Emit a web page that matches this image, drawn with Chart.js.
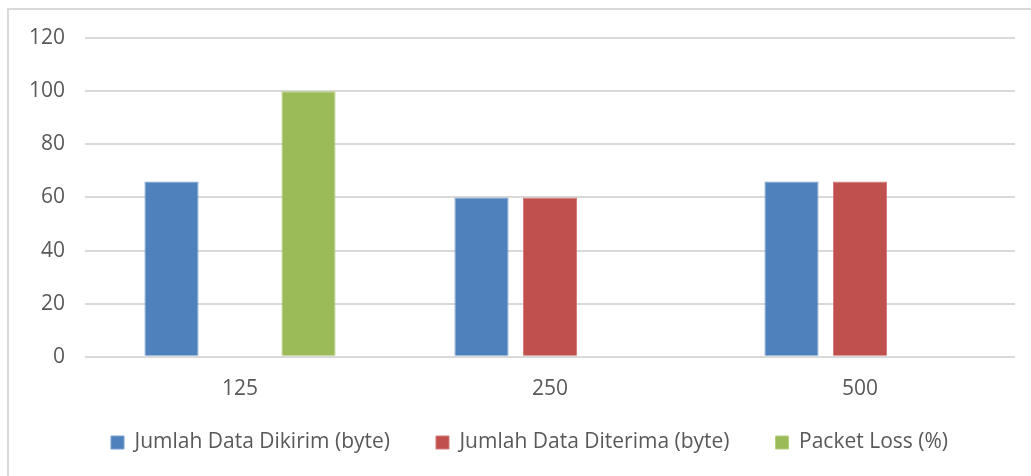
<!DOCTYPE html>
<html>
<head>
<meta charset="utf-8">
<script src="https://cdn.jsdelivr.net/npm/chart.js@4/dist/chart.umd.min.js"></script>
<style>
  html, body { margin: 0; padding: 0; background: #ffffff; }
  #wrap { position: relative; width: 1031px; height: 476px; overflow: hidden; }
  #frame {
    position: absolute; left: 7px; top: 8px; width: 1040px; height: 480px;
    border-left: 2px solid #d9d9d9; border-top: 2px solid #d9d9d9;
  }
  #chart { position: absolute; left: 0; top: 0; }
</style>
</head>
<body>
<div id="wrap">
  <div id="frame"></div>
  <canvas id="chart" width="1031" height="476"></canvas>
</div>
<script>
// Packet sizes tested
const categories = ['125', '250', '500'];
// Series values
const sentBytes = [66, 60, 66];
const receivedBytes = [0, 60, 66];
const packetLoss = [100, 0, 0];
// Value axis ticks
const yTicks = [0, 20, 40, 60, 80, 100, 120];

const seriesNames = ['Jumlah Data Dikirim (byte)', 'Jumlah Data Diterima (byte)', 'Packet Loss (%)'];
const fills = ['#4f81bd', '#c0504d', '#9bbb59'];
const edges = ['#7ba0d0', '#d27a78', '#b5cf82'];

const fontFamily = "'Open Sans', 'Noto Sans', sans-serif";

const datasets = [sentBytes, receivedBytes, packetLoss].map((vals, i) => ({
  label: seriesNames[i],
  data: vals,
  backgroundColor: fills[i],
  borderColor: edges[i],
  borderWidth: 1,
  categoryPercentage: 0.663,
  barPercentage: 0.79
}));

// Pull the legend row a little closer to the category labels
// (only the top edge moves, so the row is not clipped)
const legendLift = {
  id: 'legendLift',
  afterLayout(chart) {
    if (chart.legend) {
      chart.legend.top -= 28;
    }
  }
};

new Chart(document.getElementById('chart'), {
  type: 'bar',
  data: { labels: categories, datasets },
  plugins: [legendLift],
  options: {
    responsive: false,
    animation: false,
    layout: { padding: { left: 28, right: 0, top: 38, bottom: 0 } },
    plugins: {
      tooltip: { enabled: false },
      legend: {
        position: 'bottom',
        maxHeight: 62,
        labels: {
          color: '#595959',
          font: { family: fontFamily, size: 21 },
          boxWidth: 13,
          boxHeight: 13,
          padding: 46,
          useBorderRadius: false
        }
      }
    },
    scales: {
      x: {
        grid: { display: false },
        border: { display: false },
        ticks: { color: '#595959', font: { family: fontFamily, size: 21 }, padding: 12 }
      },
      y: {
        min: 0, max: 120,
        afterBuildTicks: (axis) => { axis.ticks = yTicks.map(v => ({ value: v })); },
        afterFit: (axis) => { axis.width = 57; },
        grid: { color: '#d9d9d9', lineWidth: 2, drawTicks: false },
        border: { display: false },
        ticks: { color: '#595959', font: { family: fontFamily, size: 21 }, padding: 20 }
      },
      // empty right-hand strip after the gridlines
      yRight: {
        position: 'right',
        display: true,
        afterFit: (axis) => { axis.width = 16; },
        grid: { display: false },
        border: { display: false },
        ticks: { display: false }
      }
    }
  }
});
</script>
</body>
</html>
